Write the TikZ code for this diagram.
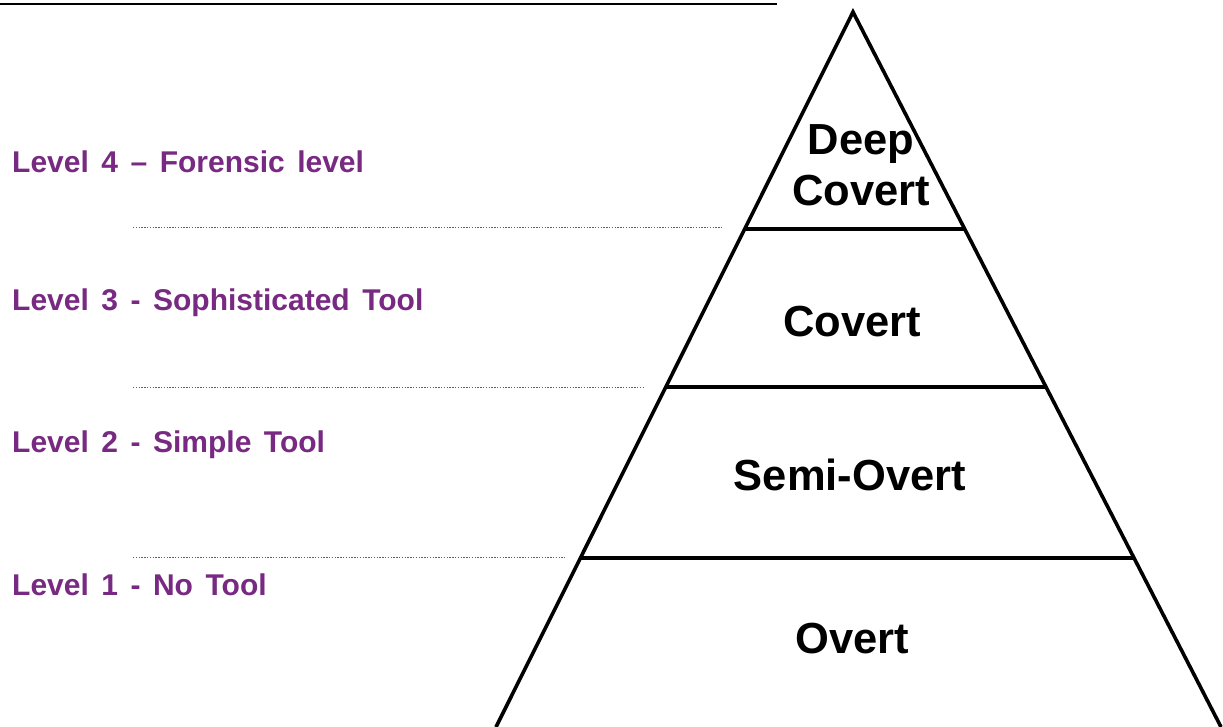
\documentclass[tikz,border=0pt]{standalone}
\usepackage{fontspec}
\setmainfont{Liberation Sans}
\newfontfamily\lvlfont[WordSpace=1.5]{Liberation Sans}
\usetikzlibrary{calc}
\definecolor{lvlpurple}{RGB}{120,41,130}
\definecolor{dotgray}{RGB}{95,95,95}
\begin{document}
\begin{tikzpicture}[x=1pt,y=-1pt,
  pyrline/.style={line width=3.6pt, line join=miter},
  sepline/.style={line width=3.4pt},
  guide/.style={draw=dotgray, line width=1pt, dash pattern=on 1.4pt off 1.4pt},
  lvllabel/.style={anchor=base west, inner sep=0pt, text=lvlpurple,
    font=\lvlfont\fontsize{30}{34}\selectfont\bfseries},
  tier/.style={anchor=base, inner sep=0pt, align=center,
    font=\fontsize{43.5}{51}\selectfont\bfseries}]
  \useasboundingbox (0,0) rectangle (1223,727);

  % title rule at the top edge
  \coordinate (ruleL) at (0,4);
  \coordinate (ruleR) at (777,4);
  \draw[line width=2.5pt] (ruleL) -- (ruleR);

  % pyramid outline
  \coordinate (apex) at (853,12);
  \coordinate (bl) at (496,727);
  \coordinate (br) at (1221,727);
  \draw[pyrline] (bl) -- (apex) -- (br);

  % tier boundaries
  \coordinate (s1l) at ($(apex)!0.3035!(bl)$);
  \coordinate (s1r) at ($(apex)!0.3035!(br)$);
  \coordinate (s2l) at ($(apex)!0.5245!(bl)$);
  \coordinate (s2r) at ($(apex)!0.5245!(br)$);
  \coordinate (s3l) at ($(apex)!0.7636!(bl)$);
  \coordinate (s3r) at ($(apex)!0.7636!(br)$);
  \draw[sepline] (s1l) -- (s1r);
  \draw[sepline] (s2l) -- (s2r);
  \draw[sepline] (s3l) -- (s3r);

  % tier names
  \node[tier] (deep) at (861,154.5) {Deep};
  \node[tier] (deepcov) at (861,205.5) {Covert};
  \node[tier] (covert) at (852,336.5) {Covert};
  \node[tier] (semi) at (850,490.5) {Semi-Overt};
  \node[tier] (overt) at (852,653.5) {Overt};

  % dotted guides between levels
  \coordinate (g1a) at (133,228);
  \coordinate (g1b) at (723,228);
  \coordinate (g2a) at (133,387);
  \coordinate (g2b) at (643,387);
  \coordinate (g3a) at (133,557);
  \coordinate (g3b) at (565,557);
  \draw[guide] (g1a) -- (g1b);
  \draw[guide] (g2a) -- (g2b);
  \draw[guide] (g3a) -- (g3b);

  % level labels
  \node[lvllabel] (lv4) at (12,173) {Level 4 – Forensic level};
  \node[lvllabel] (lv3) at (12,310) {Level 3 - Sophisticated Tool};
  \node[lvllabel] (lv2) at (12,452) {Level 2 - Simple Tool};
  \node[lvllabel] (lv1) at (12,595) {Level 1 - No Tool};
\end{tikzpicture}
\end{document}
